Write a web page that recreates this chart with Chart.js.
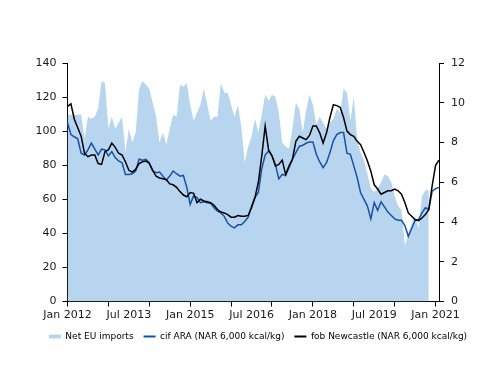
<!DOCTYPE html>
<html>
<head>
<meta charset="utf-8">
<script src="https://cdn.jsdelivr.net/npm/chart.js@4.4.1/dist/chart.umd.min.js"></script>
<style>
  body { margin: 0; background: #fff; }
  #wrap { width: 500px; height: 386px; }
</style>
</head>
<body>
<div id="wrap"><canvas id="coalChart" width="500" height="386"></canvas></div>
<script>
// Months Jan 2012 .. Feb 2021
const monthNames = ["Jan", "Feb", "Mar", "Apr", "May", "Jun", "Jul", "Aug", "Sep", "Oct", "Nov", "Dec"];
const startYear = 2012;
const monthCount = 110;

// Net EU imports (Mt, right axis) – Jan 2012 .. Nov 2020
const netImports = [
  9.4, 9.4, 9.4, 9.4, 9.4, 8.2, 9.3, 9.2, 9.3, 9.7, 11.1, 11.0,
  8.7, 9.3, 8.7, 9.0, 9.3, 7.5, 8.7, 8.0, 8.5, 10.7, 11.1, 10.9,
  10.7, 10.0, 9.3, 8.0, 8.5, 7.9, 8.7, 9.4, 9.3, 10.9, 10.8, 11.0,
  9.9, 9.1, 9.5, 9.9, 10.7, 9.9, 9.1, 9.3, 9.3, 11.0, 10.5, 10.5,
  9.9, 9.3, 9.9, 8.8, 7.0, 7.8, 8.3, 9.2, 8.5, 9.4, 10.4, 10.1,
  10.4, 10.3, 9.5, 8.0, 7.8, 7.7, 8.7, 10.0, 9.7, 8.5, 9.6, 10.4,
  9.9, 8.9, 9.3, 9.0, 8.7, 9.0, 9.2, 9.7, 9.5, 10.7, 10.5, 9.1,
  10.3, 8.1, 7.5, 7.1, 6.4, 5.7, 5.5, 5.7, 6.0, 6.4, 6.3, 6.0,
  5.3, 4.8, 4.6, 2.8, 3.4, 3.9, 4.3, 3.7, 5.3, 5.6, 5.6
];

// cif ARA price ($/t, left axis)
const cifAra = [
  105, 98, 96.7, 95.5, 87, 86, 89, 93, 89.5, 86, 89.4, 89,
  85.5, 88, 84.5, 82.5, 81.5, 74.5, 74.6, 75, 76.6, 83.5, 83, 83.5,
  81.5, 76.6, 75.6, 76, 73.6, 71.3, 73.6, 76.6, 75, 73.6, 74, 67,
  57, 62, 61, 58, 58.5, 58, 57.6, 55, 53, 52, 50, 46,
  44.2, 43.2, 45, 45, 47, 49.5, 56, 61, 64, 78, 86, 88.4,
  85.5, 80.5, 72, 74.6, 74, 78.6, 83.5, 87.4, 91, 91.7, 92.9, 93.7,
  93.7, 86.4, 81.9, 78.6, 81.5, 87.4, 94.3, 98, 99.2, 99.2, 87, 86.4,
  79.6, 72.7, 63.8, 60, 56, 48.5, 58, 53.5, 58.5, 55.5, 52.5, 50.5,
  48.5, 47.7, 47.7, 44.5, 38.3, 43, 47.7, 48.1, 52, 55, 54, 64.8,
  66.2, 67
];

// fob Newcastle price ($/t, left axis)
const fobNewcastle = [
  114.5, 116, 107, 102, 97, 87, 85, 86, 86, 81, 80.5, 88,
  89, 93, 90.5, 87, 86, 82, 77, 76, 77.5, 81, 82, 82.5,
  81, 77, 73.5, 72.5, 72, 71.5, 69, 68.5, 67, 64.5, 62.5, 61.5,
  64, 63.5, 58, 60, 59, 58.5, 58, 56.5, 54, 52.5, 52, 51,
  49.5, 49.5, 50.5, 50, 50, 50.5, 55, 61, 70, 85.5, 103, 89,
  85.5, 79.5, 80.5, 83, 74.6, 79.6, 83.5, 94, 97, 96, 95, 97.5,
  103, 103, 99, 93, 99, 108, 115.5, 115, 114, 108, 100, 98,
  97, 94, 92, 87.5, 82.5, 76.5, 68.5, 66, 63, 64, 65, 65,
  66, 65, 63, 58, 52, 50, 48, 47.5, 49, 51, 54, 68,
  80, 83
];

const leftTicks = { min: 0, max: 140, step: 20 };
const rightTicks = { min: 0, max: 12, step: 2 };

const labels = [];
for (let i = 0; i < monthCount; i++) {
  labels.push(monthNames[i % 12] + " " + (startYear + Math.floor(i / 12)));
}

Chart.defaults.font.family = "'DejaVu Sans', sans-serif";
Chart.defaults.color = "#1a1a1a";

const areaColor = "#b7d5ee";
const ciiColor = "#1650a8";

new Chart(document.getElementById("coalChart"), {
  type: "line",
  data: {
    labels: labels,
    datasets: [
      {
        label: "Net EU imports",
        data: netImports,
        yAxisID: "y1",
        fill: "origin",
        backgroundColor: areaColor,
        borderColor: "rgba(0,0,0,0)",
        borderWidth: 0,
        pointRadius: 0,
        tension: 0,
        order: 3,
      },
      {
        label: "cif ARA (NAR 6,000 kcal/kg)",
        data: cifAra,
        yAxisID: "y",
        fill: false,
        borderColor: ciiColor,
        backgroundColor: ciiColor,
        borderWidth: 1.5,
        pointRadius: 0,
        tension: 0,
        order: 2,
      },
      {
        label: "fob Newcastle (NAR 6,000 kcal/kg)",
        data: fobNewcastle,
        yAxisID: "y",
        fill: false,
        borderColor: "#000",
        backgroundColor: "#000",
        borderWidth: 1.5,
        pointRadius: 0,
        tension: 0,
        order: 1,
      },
    ],
  },
  options: {
    responsive: false,
    animation: false,
    layout: { padding: { left: 16, right: 0, top: 63, bottom: 35 } },
    plugins: {
      tooltip: { enabled: false },
      legend: {
        position: "bottom",
        labels: {
          font: { size: 9 },
          padding: 10,
          boxHeight: 4,
          usePointStyle: true,
          pointStyleWidth: 12,
          generateLabels: (chart) =>
            chart.data.datasets.map((ds, i) => ({
              text: ds.label,
              datasetIndex: i,
              hidden: false,
              pointStyle: i === 0 ? "rect" : "line",
              fillStyle: i === 0 ? areaColor : ds.borderColor,
              strokeStyle: i === 0 ? areaColor : ds.borderColor,
              lineWidth: i === 0 ? 0 : 2,
            })),
        },
      },
    },
    scales: {
      x: {
        type: "category",
        offset: false,
        grid: {
          drawOnChartArea: false,
          tickLength: 5,
          color: (ctx) => (ctx.index % 12 === 0 ? "#000" : "rgba(0,0,0,0)"),
        },
        border: { color: "#000", width: 1 },
        ticks: {
          autoSkip: false,
          maxRotation: 0,
          minRotation: 0,
          padding: 2,
          font: { size: 11 },
          callback: function (value, index) {
            return index % 18 === 0 ? this.getLabelForValue(value) : "";
          },
        },
        afterFit: (s) => { s.height = 20.5; },
      },
      y: {
        position: "left",
        min: leftTicks.min,
        max: leftTicks.max,
        grid: { drawOnChartArea: false, tickLength: 5, color: "#000" },
        border: { color: "#000", width: 1 },
        ticks: { stepSize: leftTicks.step, padding: 6, font: { size: 11 } },
        afterFit: (s) => { s.width = 51.5; },
      },
      y1: {
        position: "right",
        min: rightTicks.min,
        max: rightTicks.max,
        grid: { drawOnChartArea: false, tickLength: 5, color: "#000" },
        border: { color: "#000", width: 1 },
        ticks: { stepSize: rightTicks.step, padding: 7, font: { size: 11 } },
        afterFit: (s) => { s.width = 61; },
      },
    },
  },
});
</script>
</body>
</html>
